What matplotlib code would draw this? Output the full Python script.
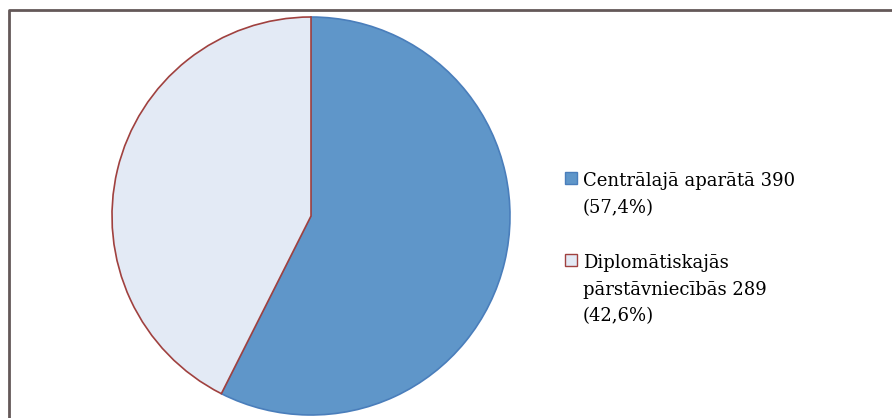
import matplotlib.pyplot as plt
from matplotlib.patches import Rectangle
from matplotlib.lines import Line2D

labels = ["Centrālajā aparātā 390\n(57,4%)",
          "Diplomātiskajās\npārstāvniecībās 289\n(42,6%)"]
values = [390, 289]
fills = ["#5F96C9", "#E3EAF5"]
edges = ["#4A7EBB", "#A0413F"]

W, H = 892, 418
fig = plt.figure(figsize=(W / 100, H / 100), dpi=100)
ax = fig.add_axes([0, 0, 1, 1])

# pie drawn clockwise from 12 o'clock (y axis inverted -> counterclock=True goes clockwise)
wedges, _ = ax.pie(values, colors=fills, startangle=-90, counterclock=True,
                   center=(311, 216), radius=199, frame=True,
                   wedgeprops=dict(linewidth=1.2))
for w, ec in zip(wedges, edges):
    w.set_edgecolor(ec)
ax.set_xlim(0, W)
ax.set_ylim(H, 0)
ax.set_aspect('equal')
ax.axis('off')

# outer frame (only top and left visible in the crop)
ax.add_line(Line2D([8.5, 8.5, W], [H, 10, 10], color="#645858", lw=2))

# legend
y0 = [178, 260]
for lab, fc, ec, y in zip(labels, fills, edges, y0):
    ax.add_patch(Rectangle((565, y - 6), 12, 12, facecolor=fc, edgecolor=ec, lw=1))
    ax.text(583, y - 6, lab, va='top', ha='left', fontsize=13,
            family='DejaVu Serif', linespacing=1.62, color='black')

plt.savefig('out.png', dpi=100)
